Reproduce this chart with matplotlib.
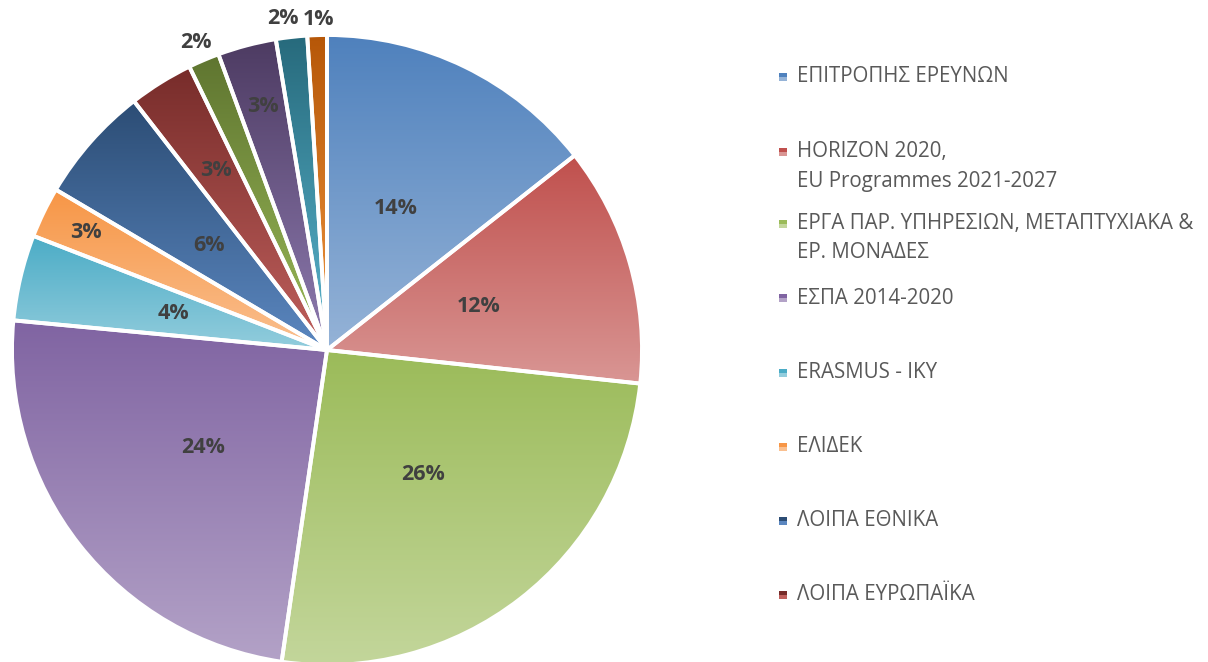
import numpy as np
import matplotlib
matplotlib.use("Agg")
import matplotlib.pyplot as plt
from matplotlib.colors import to_rgb

# ---- data ----
values = [14.4, 12.3, 25.6, 24.2, 4.4, 2.6, 6.0, 3.3, 1.6, 3.0, 1.6, 1.0]
legend_labels = [
    "ΕΠΙΤΡΟΠΗΣ ΕΡΕΥΝΩΝ",
    "HORIZON 2020,\nEU Programmes 2021-2027",
    "ΕΡΓΑ ΠΑΡ. ΥΠΗΡΕΣΙΩΝ, ΜΕΤΑΠΤΥΧΙΑΚΑ &\nΕΡ. ΜΟΝΑΔΕΣ",
    "ΕΣΠΑ 2014-2020",
    "ERASMUS - IKY",
    "ΕΛΙΔΕΚ",
    "ΛΟΙΠΑ ΕΘΝΙΚΑ",
    "ΛΟΙΠΑ ΕΥΡΩΠΑΪΚΑ",
]

# ---- style ----
top_colors = ["#4F81BD", "#C0504D", "#9BBB59", "#8064A2", "#4BACC6", "#F79646",
              "#2C4D75", "#772C2A", "#5F7530", "#4D3B62", "#276A7C", "#B65708"]
bot_colors = ["#95B3D7", "#D99694", "#C3D69B", "#B3A2C7", "#93CDDD", "#FAC090",
              "#5B87C0", "#C0605D", "#9BBB59", "#8E7BB0", "#5AB5CE", "#F0963F"]
label_r = [0.5, 0.5, 0.5, 0.5, 0.5, 0.85, 0.5, 0.67, 1.06, 0.8, 1.06, 1.05]
label_dx = [0, 0, 0, 0, 0, 0, 0, 0, 0, 0, -6, 2]
FONT = ["Open Sans", "DejaVu Sans"]
plt.rcParams["font.family"] = FONT

W, H = 1208, 662
fig = plt.figure(figsize=(W / 100, H / 100), dpi=100)
ax = fig.add_axes([0, 0, 1, 1])

cx, cy, R = 327, H - 350, 315
wedges, _ = ax.pie(values, startangle=90, counterclock=False, center=(cx, cy),
                   radius=R, frame=True,
                   wedgeprops=dict(facecolor="none", edgecolor="white",
                                   linewidth=2.8, zorder=3))

for w, c0, c1 in zip(wedges, top_colors, bot_colors):
    bb = w.get_path().get_extents()
    t = np.linspace(0, 1, 256)[:, None]
    a, b = np.array(to_rgb(c0)), np.array(to_rgb(c1))
    grad = (a[None, None, :] * (1 - t[:, :, None]) + b[None, None, :] * t[:, :, None])
    im = ax.imshow(grad, extent=(bb.x0, bb.x1, bb.y0, bb.y1), origin="upper",
                   aspect="auto", zorder=2, interpolation="bilinear")
    im.set_clip_path(w)

ax.set_xlim(0, W)
ax.set_ylim(0, H)
ax.set_aspect("equal")
ax.axis("off")

# percentage labels
total = sum(values)
for w, v, rf, dx in zip(wedges, values, label_r, label_dx):
    ang = np.deg2rad((w.theta1 + w.theta2) / 2)
    x = cx + rf * R * np.cos(ang) + dx
    y = cy + rf * R * np.sin(ang)
    ax.text(x, y, f"{round(v / total * 100):d}%", ha="center", va="center",
            fontsize=15.5, fontweight="bold", color="#404040", zorder=5)

# legend (drawn manually)
leg_y = [77, 152, 224, 298, 373, 447, 521, 595]
line_gap = 29
for lab, yy, c0, c1 in zip(legend_labels, leg_y, top_colors, bot_colors):
    sq = 8
    ax.add_patch(plt.Rectangle((779, H - yy - sq / 2), sq, sq, facecolor=c1,
                               edgecolor="none", zorder=4))
    ax.add_patch(plt.Rectangle((779, H - yy), sq, sq / 2, facecolor=c0,
                               edgecolor="none", zorder=4))
    for k, line in enumerate(lab.split("\n")):
        ax.text(797, H - yy - k * line_gap, line, ha="left", va="center",
                fontsize=14.8, color="#595959")

fig.savefig("out.png", dpi=100)
